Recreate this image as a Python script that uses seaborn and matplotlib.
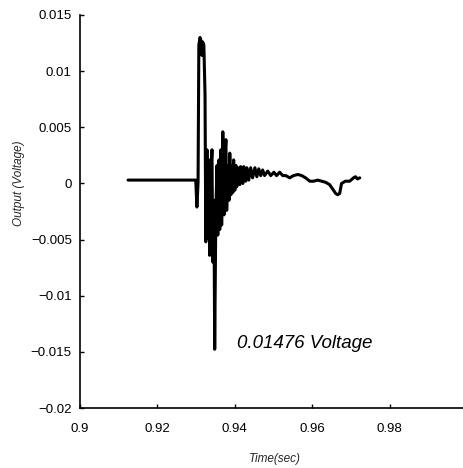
import matplotlib
matplotlib.use("Agg")
import matplotlib.pyplot as plt
import seaborn as sns
import pandas as pd

# Data (time in seconds, output in volts)
time_sec = [
    0.9124, 0.9299, 0.9302, 0.9305, 0.9307, 0.9310, 0.9312, 0.9315, 0.9317, 0.9320,
    0.9323, 0.9325, 0.9328, 0.9330, 0.9333, 0.9335, 0.9338, 0.9341, 0.9343, 0.9346,
    0.9348, 0.9351, 0.9354, 0.9356, 0.9359, 0.9361, 0.9364, 0.9366, 0.9369, 0.9372,
    0.9374, 0.9377, 0.9379, 0.9382, 0.9385, 0.9387, 0.9390, 0.9392, 0.9395, 0.9397,
    0.9400, 0.9403, 0.9405, 0.9408, 0.9413, 0.9415, 0.9421, 0.9423, 0.9428, 0.9431,
    0.9436, 0.9441, 0.9446, 0.9452, 0.9457, 0.9462, 0.9467, 0.9472, 0.9477, 0.9485,
    0.9493, 0.9501, 0.9508, 0.9516, 0.9524, 0.9532, 0.9542, 0.9552, 0.9563, 0.9573,
    0.9583, 0.9594, 0.9604, 0.9614, 0.9625, 0.9635, 0.9645, 0.9653, 0.9661, 0.9666,
    0.9671, 0.9676, 0.9686, 0.9697, 0.9707, 0.9712, 0.9717, 0.9723,
]
voltage = [
    0.0003, 0.0003, -0.0021, 0.0001, 0.0123, 0.0130, 0.0128, 0.0114, 0.0126, 0.0123,
    0.0079, -0.0052, 0.0030, -0.0049, 0.0021, -0.0064, 0.0012, 0.0030, -0.0070, -0.0015,
    -0.01476, -0.0024, 0.0016, -0.0046, 0.0021, -0.0041, 0.0030, -0.0037, 0.0046, -0.0028,
    0.0021, 0.0039, -0.0024, 0.0016, -0.0015, 0.0027, -0.0010, 0.0016, -0.0008, 0.0021,
    -0.0006, 0.0016, -0.0003, 0.0014, -0.0001, 0.0015, 0.0000, 0.0015, 0.0002, 0.0014,
    0.0003, 0.0014, 0.0005, 0.0014, 0.0006, 0.0013, 0.0007, 0.0012, 0.0007, 0.0011,
    0.0007, 0.0010, 0.0007, 0.0010, 0.0007, 0.0007, 0.0005, 0.0007, 0.0008, 0.0007,
    0.0005, 0.0002, 0.0002, 0.0003, 0.0002, 0.0001, -0.0001, -0.0005, -0.0009, -0.0010,
    -0.0009, 0.0000, 0.0002, 0.0002, 0.0005, 0.0006, 0.0004, 0.0005,
]
x_ticks = [0.9, 0.92, 0.94, 0.96, 0.98]
y_ticks = [-0.02, -0.015, -0.01, -0.005, 0, 0.005, 0.01, 0.015]
x_tick_labels = ["0.9", "0.92", "0.94", "0.96", "0.98"]
y_tick_labels = ["-0.02", "-0.015", "-0.01", "-0.005", "0", "0.005", "0.01", "0.015"]
annotation = "0.01476 Voltage"

df = pd.DataFrame({"Time": time_sec, "Output": voltage})

sns.set_style("ticks")
plt.rcParams["font.family"] = ["Liberation Sans", "DejaVu Sans"]

fig = plt.figure(figsize=(4.63, 4.68), dpi=100)
ax = fig.add_axes([0.173, 0.128, 0.827, 0.840])

sns.lineplot(data=df, x="Time", y="Output", sort=False, estimator=None,
             color="black", linewidth=2.2, ax=ax)

ax.set_xlim(0.9, 0.999)
ax.set_ylim(-0.02, 0.015)
ax.set_xticks(x_ticks)
ax.set_xticklabels(x_tick_labels)
ax.set_yticks(y_ticks)
ax.set_yticklabels([t.replace("-", "\u2212") for t in y_tick_labels])

for side in ["top", "right"]:
    ax.spines[side].set_visible(False)
for side in ["left", "bottom"]:
    ax.spines[side].set_color("black")
    ax.spines[side].set_linewidth(1.2)

ax.tick_params(axis="x", direction="in", length=3, width=1, pad=11, labelsize=9.5, colors="black")
ax.tick_params(axis="y", direction="in", length=3, width=1, pad=6, labelsize=9.5, colors="black")

ax.set_xlabel("Time(sec)", fontstyle="italic", fontsize=8.5)
ax.set_ylabel("Output (Voltage)", fontstyle="italic", fontsize=8.5)
ax.xaxis.set_label_coords(0.509, -0.115)
ax.yaxis.set_label_coords(-0.145, 0.573)

ax.text(0.9405, -0.01466, annotation, fontsize=13.5, fontstyle="italic",
        ha="left", va="baseline", color="black")

fig.savefig("out.png", dpi=100, facecolor="white")
